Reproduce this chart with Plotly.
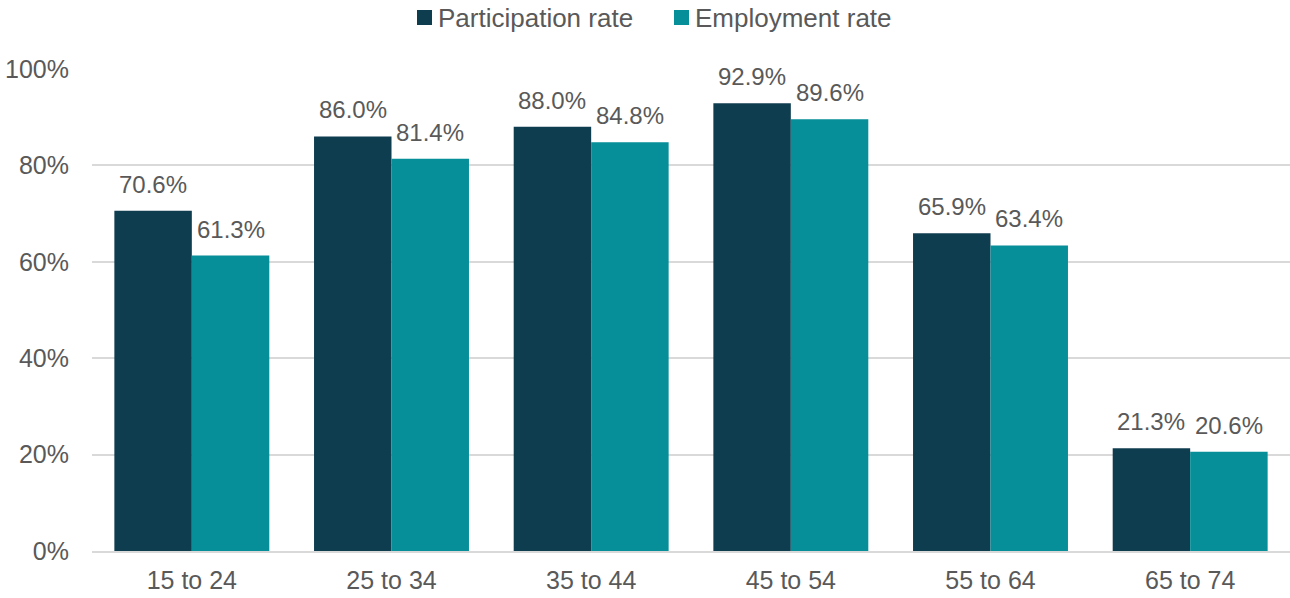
import plotly.graph_objects as go

age_groups = ["15 to 24", "25 to 34", "35 to 44", "45 to 54", "55 to 64", "65 to 74"]
participation = [70.6, 86.0, 88.0, 92.9, 65.9, 21.3]
employment = [61.3, 81.4, 84.8, 89.6, 63.4, 20.6]
y_ticks = [0, 20, 40, 60, 80, 100]

DARK = "#0F3D50"
TEAL = "#068E99"
GREY = "#595959"
GRID = "#D9D9D9"
FONT = "Liberation Sans, Arial, sans-serif"

W, H = 1290, 598
M_L, M_R, M_T, M_B = 92, 0, 69, 47
BARGAP = 0.224
plot_w = W - M_L - M_R
plot_h = H - M_T - M_B
# horizontal distance from a category centre to the centre of each bar in the pair
bar_offset = plot_w / len(age_groups) * (1 - BARGAP) / 4

series = [("Participation rate", participation, DARK, -bar_offset),
          ("Employment rate", employment, TEAL, bar_offset)]

fig = go.Figure()
annotations = []
for name, vals, col, dx in series:
    fig.add_trace(go.Bar(x=age_groups, y=vals, name=name, marker_color=col,
                         marker_line_width=0, showlegend=False))
    for cat, v in zip(age_groups, vals):
        annotations.append(dict(
            x=cat, y=v, xref="x", yref="y", text=f"{v:.1f}%", showarrow=False,
            xshift=dx, yshift=11, yanchor="bottom", xanchor="center",
            font=dict(size=24, color=GREY, family=FONT)))


def px_x(p):
    return (p - M_L) / plot_w


def px_y(p):
    return (H - M_B - p) / plot_h


# legend drawn as swatches + labels above the plot
shapes = []
for (name, _, col, _), sq_left in zip(series, [417, 674]):
    shapes.append(dict(type="rect", xref="paper", yref="paper",
                       x0=px_x(sq_left), x1=px_x(sq_left + 15),
                       y0=px_y(25), y1=px_y(10), fillcolor=col, line_width=0))
    annotations.append(dict(x=px_x(sq_left + 19), y=px_y(18), xref="paper", yref="paper",
                            text=name, showarrow=False, xanchor="left", yanchor="middle",
                            font=dict(size=26, color=GREY, family=FONT)))

fig.update_layout(
    width=W, height=H,
    margin=dict(l=M_L, r=M_R, t=M_T, b=M_B),
    paper_bgcolor="white", plot_bgcolor="white",
    barmode="group", bargap=BARGAP, bargroupgap=0,
    font=dict(family=FONT, color=GREY, size=25),
    showlegend=False,
    annotations=annotations,
    shapes=shapes,
)
fig.update_xaxes(showgrid=False, showline=True, linecolor=GRID, linewidth=2,
                 ticks="", tickfont=dict(size=25, color=GREY), ticklabelstandoff=6)
fig.update_yaxes(range=[0, 100], tickvals=y_ticks, ticktext=[f"{t}%" for t in y_ticks],
                 showgrid=True, gridcolor=GRID, gridwidth=2, zeroline=False,
                 showline=False, tickfont=dict(size=25, color=GREY), ticklabelstandoff=22)

fig.write_html("out.html")
